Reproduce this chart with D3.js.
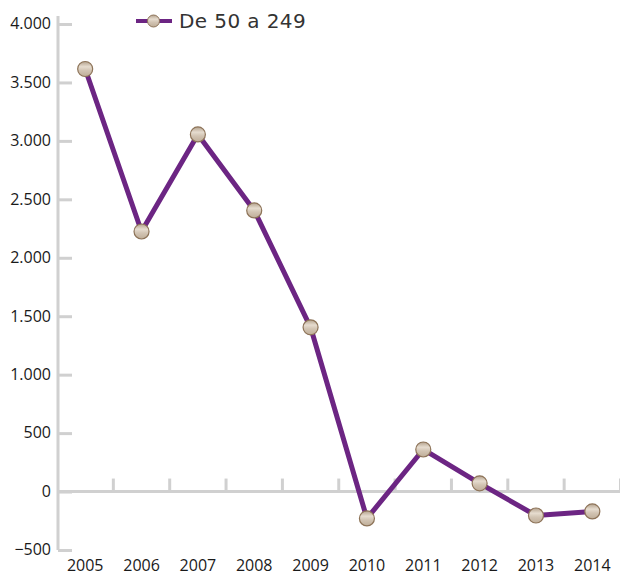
<!DOCTYPE html>
<html>
<head>
<meta charset="utf-8">
<script src="https://cdn.jsdelivr.net/npm/d3@7"></script>
<style>
  body { margin: 0; background: #fff; }
  svg { display: block; }
  .tick text { font-family: "Open Sans", "Noto Sans", sans-serif; font-size: 16px; fill: #1a1a1a; }
</style>
</head>
<body>
<script>
// Chart data
let years = ["2005", "2006", "2007", "2008", "2009", "2010", "2011", "2012", "2013", "2014"];
let values = [3615, 2225, 3055, 2405, 1405, -230, 360, 70, -205, -170];
let yTicks = [-500, 0, 500, 1000, 1500, 2000, 2500, 3000, 3500, 4000];
let seriesName = "De 50 a 249";

let svgWidth = 620;
let svgHeight = 576;

let svg = d3.select("body")
    .append("svg")
    .attr("width", svgWidth)
    .attr("height", svgHeight);

// marker gradient
let defs = svg.append("defs");
let grad = defs.append("linearGradient")
    .attr("id", "markerGrad")
    .attr("x1", 0).attr("y1", 0).attr("x2", 0).attr("y2", 1);
grad.append("stop").attr("offset", "0%").attr("stop-color", "#b3a18c");
grad.append("stop").attr("offset", "35%").attr("stop-color", "#e6dccf");
grad.append("stop").attr("offset", "60%").attr("stop-color", "#d2c4b3");
grad.append("stop").attr("offset", "100%").attr("stop-color", "#bfae99");

let xScale = d3.scaleBand()
    .domain(years)
    .range([57, 620.5]);

let yScale = d3.scaleLinear()
    .domain([-500, 4000])
    .range([550, 24]);

let fmt = d3.formatLocale({decimal: ",", thousands: ".", grouping: [3], currency: ["", "€"]}).format(",.0f");

// y axis
let leftAxis = d3.axisRight(yScale)
    .tickValues(yTicks)
    .tickSize(14)
    .tickFormat(fmt);

let yAxisG = svg.append("g")
    .attr("transform", "translate(58,0)")
    .call(leftAxis);
yAxisG.select(".domain").attr("stroke", "#d0d0d0").attr("stroke-width", 3)
    .attr("d", `M0,${yScale(4000) - 8}V${yScale(-500)}`);
yAxisG.selectAll(".tick line").attr("stroke", "#d0d0d0").attr("stroke-width", 3);
yAxisG.selectAll(".tick text")
    .attr("x", -7)
    .attr("dy", "0.3em")
    .attr("text-anchor", "end");

// x axis at zero
let bottomAxis = d3.axisBottom(xScale).tickSize(0).tickPadding(0);
let xAxisG = svg.append("g")
    .attr("transform", `translate(0, ${yScale(0)})`)
    .call(bottomAxis);
xAxisG.select(".domain").attr("stroke", "#d0d0d0").attr("stroke-width", 3)
    .attr("d", `M57,0H620`);
xAxisG.selectAll(".tick text")
    .attr("y", yScale(-500) - yScale(0) + 21)
    .attr("dy", 0);

// category separator ticks pointing up
xAxisG.selectAll(".sep")
    .data(years.slice(1).concat(["end"]))
    .enter()
    .append("line")
    .attr("class", "sep")
    .attr("x1", (d, i) => xScale(years[0]) + xScale.step() * (i + 1))
    .attr("x2", (d, i) => xScale(years[0]) + xScale.step() * (i + 1))
    .attr("y1", 0)
    .attr("y2", -13)
    .attr("stroke", "#d0d0d0")
    .attr("stroke-width", 3);

// line
let cx = d => xScale(d.year) + xScale.bandwidth() / 2;
let points = years.map((y, i) => ({year: y, value: values[i]}));

svg.append("path")
    .datum(points)
    .attr("fill", "none")
    .attr("stroke", "#6c2583")
    .attr("stroke-width", 5)
    .attr("stroke-linejoin", "round")
    .attr("d", d3.line().x(cx).y(d => yScale(d.value)));

svg.selectAll(".marker")
    .data(points)
    .enter()
    .append("circle")
    .attr("class", "marker")
    .attr("cx", cx)
    .attr("cy", d => yScale(d.value))
    .attr("r", 7.5)
    .attr("fill", "url(#markerGrad)")
    .attr("stroke", "#8d7358")
    .attr("stroke-width", 1.2);

// legend
let legend = svg.append("g").attr("transform", "translate(136,21)");
legend.append("line")
    .attr("x1", 0).attr("x2", 36)
    .attr("y1", 0).attr("y2", 0)
    .attr("stroke", "#6c2583")
    .attr("stroke-width", 4);
legend.append("circle")
    .attr("cx", 17.5).attr("cy", 0).attr("r", 6)
    .attr("fill", "url(#markerGrad)")
    .attr("stroke", "#8d7358")
    .attr("stroke-width", 1);
legend.append("text")
    .attr("x", 43)
    .attr("y", 7)
    .style("font-family", "'DejaVu Sans', sans-serif")
    .style("font-size", "20px")
    .style("letter-spacing", "0.4px")
    .style("fill", "#333")
    .text(seriesName);
</script>
</body>
</html>
